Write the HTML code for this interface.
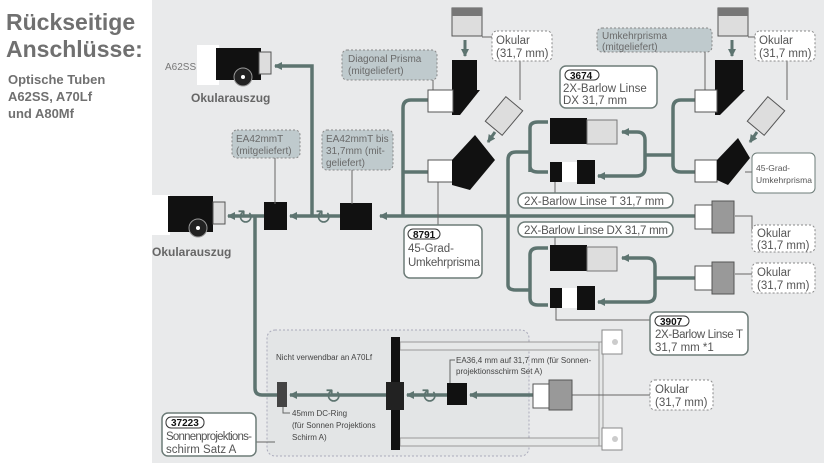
<!DOCTYPE html>
<html><head><meta charset="utf-8"><style>
html,body{margin:0;padding:0;background:#fff;}
svg{display:block;font-family:"Liberation Sans",sans-serif;}
</style></head><body>
<svg width="826" height="463" viewBox="0 0 826 463" xmlns="http://www.w3.org/2000/svg">
<defs>
<marker id="a" markerWidth="8" markerHeight="8" refX="7" refY="4" orient="auto" markerUnits="userSpaceOnUse"><path d="M0,0 L8,4 L0,8 Z" fill="#5d7470"/></marker>
</defs>
<rect x="0" y="0" width="826" height="463" fill="#fff"/>
<rect x="152" y="0" width="672" height="463" fill="#e9eaeb"/>
<text x="6" y="30" font-size="23" font-weight="bold" fill="#707070">Rückseitige</text>
<text x="6" y="57" font-size="23" font-weight="bold" fill="#707070">Anschlüsse:</text>
<text x="8" y="84" font-size="13" font-weight="bold" fill="#707070">Optische Tuben</text>
<text x="8" y="101" font-size="13" font-weight="bold" fill="#707070">A62SS, A70Lf</text>
<text x="8" y="118" font-size="13" font-weight="bold" fill="#707070">und A80Mf</text>

<rect x="267" y="330" width="262" height="126" rx="8" fill="#e3e5e6" stroke="#aab" stroke-dasharray="2,2"/>
<text x="276" y="360" font-size="8" fill="#444">Nicht verwendbar an A70Lf</text>
<g fill="#e6e8e8" stroke="#999"><rect x="400" y="342" width="202" height="8"/><rect x="400" y="438" width="202" height="8"/><rect x="599" y="342" width="4" height="104"/></g>
<g fill="#fff" stroke="#888"><rect x="602" y="330" width="20" height="24"/><rect x="602" y="428" width="20" height="22"/></g>
<circle cx="615" cy="342" r="3" fill="#ccc"/><circle cx="615" cy="439" r="3" fill="#ccc"/>

<g stroke="#5d7470" stroke-width="3.5" fill="none">
<path d="M695,216 L380,216" marker-end="url(#a)"/>
<path d="M340,216 L290,216" marker-end="url(#a)"/>
<path d="M264,216 L228,216" marker-end="url(#a)"/>
<path d="M312,216 L312,66 L275,66" marker-end="url(#a)"/>
<path d="M255,216 L255,388 Q255,395 262,395 L277,395"/>
<path d="M403,216 L403,108 Q403,100 411,100 L428,100 M403,172 L428,172"/>
<path d="M508,285 L508,160 Q508,152 516,152 L530,152"/>
<path d="M530,172 L530,128 Q530,122 538,122 L548,122 M530,128 L530,166 Q530,172 538,172 L548,172"/>
<path d="M645,155 L645,140 Q645,132 637,132 L622,132" marker-end="url(#a)"/>
<path d="M645,155 L645,168 Q645,176 636,176 L598,176" marker-end="url(#a)"/>
<path d="M645,155 L673,155 M673,108 Q673,100 681,100 L697,100 M673,108 L673,165 Q673,172 681,172 L697,172"/>
<path d="M508,285 Q508,290 516,290 L530,290"/>
<path d="M530,290 L530,255 Q530,248 538,248 L548,248 M530,260 L530,298 Q530,305 538,305 L548,305"/>
<path d="M695,278 L655,278 M655,278 L655,266 Q655,258 647,258 L622,258" marker-end="url(#a)"/>
<path d="M655,278 L655,294 Q655,302 647,302 L598,302" marker-end="url(#a)"/>
<path d="M533,395 L470,395" marker-end="url(#a)"/>
<path d="M447,395 L407,395" marker-end="url(#a)"/>
<path d="M386,395 L290,395" marker-end="url(#a)"/>
</g>
<g stroke="#5d7470" stroke-width="3" fill="none">
<path d="M465,40 L465,56" marker-end="url(#a)"/>
<path d="M732,40 L732,56" marker-end="url(#a)"/>
<path d="M495,132 L488,142" marker-end="url(#a)"/>
<path d="M757,132 L750,142" marker-end="url(#a)"/>
</g>

<rect x="197" y="45" width="22" height="40" fill="#fff"/>
<rect x="216" y="48" width="45" height="32" fill="#111"/>
<rect x="259" y="52" width="12" height="22" fill="#ddd" stroke="#555"/>
<circle cx="243" cy="77" r="9" fill="#222" stroke="#999"/><circle cx="243" cy="77" r="2" fill="#fff"/>
<text x="165" y="70" font-size="10" fill="#777">A62SS</text>
<text x="191" y="102" font-size="12" font-weight="bold" fill="#666">Okularauszug</text>
<rect x="150" y="195" width="20" height="40" fill="#fff"/>
<rect x="168" y="196" width="45" height="36" fill="#111"/>
<rect x="213" y="202" width="12" height="22" fill="#ddd" stroke="#555"/>
<circle cx="198" cy="228" r="9" fill="#222" stroke="#999"/><circle cx="198" cy="228" r="2" fill="#fff"/>
<text x="152" y="256" font-size="12" font-weight="bold" fill="#666">Okularauszug</text>
<rect x="264" y="202" width="23" height="28" fill="#111"/>
<rect x="340" y="203" width="32" height="27" fill="#111"/>
<text x="237" y="224" font-size="20" fill="#5d7470">↻</text>
<text x="315" y="224" font-size="20" fill="#5d7470">↻</text>

<g stroke="#888" stroke-dasharray="2,2" fill="#bfcacd">
<rect x="232" y="130" width="68" height="28" rx="5"/>
<rect x="322" y="130" width="71" height="40" rx="5"/>
<rect x="342" y="50" width="95" height="30" rx="5"/>
<rect x="597" y="28" width="115" height="24" rx="5"/>
</g>
<g font-size="10" fill="#6a6a6a">
<text x="236" y="142">EA42mmT</text><text x="236" y="154">(mitgeliefert)</text>
<text x="326" y="142">EA42mmT bis</text><text x="326" y="154">31,7mm (mit-</text><text x="326" y="166">geliefert)</text>
<text x="348" y="62">Diagonal Prisma</text><text x="348" y="74">(mitgeliefert)</text>
<text x="602" y="39">Umkehrprisma</text><text x="602" y="50">(mitgeliefert)</text>
</g>
<g stroke="#666" stroke-width="1" fill="none"><path d="M275,158 L275,204 M352,170 L352,204 M433,80 L433,92 M705,52 L705,92 M482,37 L492,37 M748,37 L755,37 M520,60 L520,100 M787,60 L787,100 M438,182 L438,225 M745,172 L752,172 M735,216 L752,216 L752,232 M735,274 L752,274 M555,182 L555,193 M555,237 L555,247 M556,308 L556,320 L650,320 M572,395 L650,395 M256,442 L275,442 M283,407 L283,413 L290,413 M450,383 L450,360 L455,360"/></g>

<g>
<rect x="452" y="8" width="30" height="28" fill="#ddd" stroke="#555"/><rect x="452" y="8" width="30" height="8" fill="#777"/>
<rect x="452" y="60" width="25" height="30" fill="#111"/><path d="M452,90 L480,90 L460,115 L452,115Z" fill="#111"/>
<rect x="428" y="90" width="25" height="22" fill="#fff" stroke="#555"/>
<rect x="428" y="160" width="25" height="22" fill="#fff" stroke="#555"/>
<path d="M452,160 L475,135 L495,160 L470,190 L452,185Z" fill="#111"/>
<rect x="493" y="100" width="22" height="32" fill="#ddd" stroke="#555" transform="rotate(40 504 116)"/>
<rect x="718" y="8" width="30" height="28" fill="#ddd" stroke="#555"/><rect x="718" y="8" width="30" height="8" fill="#777"/>
<rect x="715" y="60" width="28" height="30" fill="#111"/><path d="M715,90 L745,90 L720,115 L715,115Z" fill="#111"/>
<rect x="695" y="90" width="22" height="22" fill="#fff" stroke="#555"/>
<rect x="695" y="160" width="22" height="22" fill="#fff" stroke="#555"/>
<path d="M717,160 L738,138 L750,158 L728,185 L717,180Z" fill="#111"/>
<rect x="755" y="100" width="22" height="32" fill="#ddd" stroke="#555" transform="rotate(40 766 116)"/>
</g>
<g>
<rect x="550" y="118" width="37" height="26" fill="#111"/><rect x="587" y="120" width="30" height="24" fill="#ddd" stroke="#777"/>
<rect x="550" y="162" width="12" height="20" fill="#111"/><rect x="562" y="162" width="15" height="20" fill="#fff"/><rect x="577" y="160" width="18" height="24" fill="#111"/>
<rect x="550" y="245" width="37" height="26" fill="#111"/><rect x="587" y="247" width="30" height="24" fill="#ddd" stroke="#777"/>
<rect x="550" y="288" width="12" height="20" fill="#111"/><rect x="562" y="288" width="15" height="20" fill="#fff"/><rect x="577" y="286" width="18" height="24" fill="#111"/>
<rect x="695" y="205" width="20" height="24" fill="#fff" stroke="#555"/><rect x="712" y="201" width="22" height="32" fill="#999" stroke="#555"/>
<rect x="695" y="266" width="20" height="24" fill="#fff" stroke="#555"/><rect x="712" y="262" width="22" height="32" fill="#999" stroke="#555"/>
<rect x="533" y="384" width="18" height="24" fill="#fff" stroke="#555"/><rect x="549" y="380" width="23" height="30" fill="#999" stroke="#555"/>
</g>

<rect x="391" y="337" width="9" height="113" fill="#111"/>
<rect x="386" y="382" width="18" height="28" fill="#222"/>
<rect x="277" y="382" width="10" height="25" fill="#444"/>
<rect x="447" y="383" width="20" height="22" fill="#111"/>
<text x="325" y="403" font-size="20" fill="#5d7470">↻</text>
<text x="421" y="403" font-size="20" fill="#5d7470">↻</text>
<g font-size="8" fill="#444">
<text x="456" y="363">EA36,4 mm auf 31,7 mm (für Sonnen-</text><text x="456" y="374">projektionsschirm Set A)</text>
<text x="292" y="416">45mm DC-Ring</text><text x="292" y="428">(für Sonnen Projektions</text><text x="292" y="440">Schirm A)</text>
</g>

<g fill="#fff" stroke="#6d7c78" stroke-width="1.5">
<rect x="404" y="225" width="78" height="53" rx="6"/>
<rect x="560" y="66" width="97" height="42" rx="6"/>
<rect x="650" y="312" width="98" height="43" rx="6"/>
<rect x="162" y="413" width="94" height="43" rx="6"/>
<rect x="518" y="193" width="155" height="15" rx="7"/>
<rect x="518" y="222" width="155" height="15" rx="7"/>
</g>
<g fill="#fff" stroke="#888" stroke-dasharray="2,2">
<rect x="492" y="31" width="60" height="30" rx="5"/>
<rect x="755" y="31" width="60" height="30" rx="5"/>
<rect x="752" y="225" width="63" height="27" rx="5"/>
<rect x="752" y="263" width="63" height="30" rx="5"/>
<rect x="650" y="380" width="63" height="30" rx="5"/>
</g>
<rect x="752" y="153" width="63" height="40" rx="5" fill="#fff" stroke="#6d7c78"/>
<g font-size="11.5" fill="#555">
<text x="496" y="44">Okular</text><text x="496" y="57">(31,7 mm)</text>
<text x="759" y="44">Okular</text><text x="759" y="57">(31,7 mm)</text>
<text x="757" y="237">Okular</text><text x="757" y="249">(31,7 mm)</text>
<text x="757" y="276">Okular</text><text x="757" y="289">(31,7 mm)</text>
<text x="655" y="393">Okular</text><text x="655" y="406">(31,7 mm)</text>
<text x="408" y="252">45-Grad-</text><text x="408" y="266" textLength="72">Umkehrprisma</text>
<text x="563" y="92">2X-Barlow Linse</text><text x="563" y="104">DX 31,7 mm</text>
<text x="655" y="338" textLength="88">2X-Barlow Linse T</text><text x="655" y="351">31,7 mm *1</text>
<text x="524" y="205" textLength="140">2X-Barlow Linse T 31,7 mm</text>
<text x="524" y="234" textLength="144">2X-Barlow Linse DX 31,7 mm</text>
<text x="166" y="440" textLength="86">Sonnenprojektions-</text><text x="166" y="453">schirm Satz A</text>
</g>
<text x="756" y="171" font-size="8.5" fill="#555">45-Grad-</text><text x="756" y="183" font-size="8.5" fill="#555" textLength="56">Umkehrprisma</text>
<g fill="#fff" stroke="#333"><rect x="408" y="229" width="32" height="10" rx="5"/><rect x="565" y="70" width="34" height="10" rx="5"/><rect x="655" y="316" width="34" height="10" rx="5"/><rect x="166" y="417" width="38" height="11" rx="5"/></g>
<g font-size="10" font-weight="bold" fill="#111">
<text x="413" y="238">8791</text><text x="570" y="79">3674</text><text x="660" y="325">3907</text><text x="171" y="426">37223</text>
</g>
</svg>
</body></html>
